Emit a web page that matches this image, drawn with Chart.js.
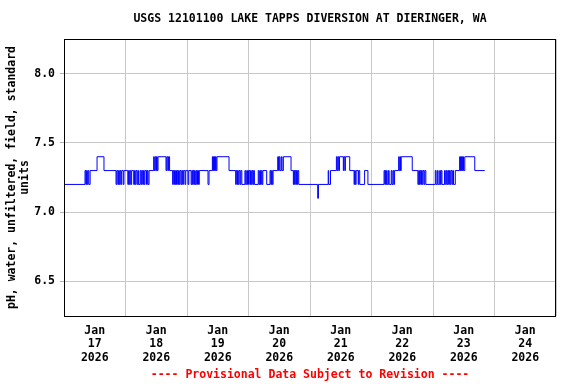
<!DOCTYPE html>
<html>
<head>
<meta charset="utf-8">
<script src="https://cdn.jsdelivr.net/npm/chart.js@4/dist/chart.umd.min.js"></script>
<style>
  html, body { margin: 0; padding: 0; background: #fff; }
  canvas { display: block; }
</style>
</head>
<body>
<canvas id="chart" width="576" height="384"></canvas>
<script>
'use strict';

const TITLE = 'USGS 12101100 LAKE TAPPS DIVERSION AT DIERINGER, WA';
const Y_TITLE = ['pH, water, unfiltered, field, standard', 'units'];
const FOOTNOTE = '---- Provisional Data Subject to Revision ----';

// x axis: hours since Jan 17 2026 00:00, one label per day (at noon)
const DAY_MONTH = 'Jan';
const DAY_NUMBERS = ['17', '18', '19', '20', '21', '22', '23', '24'];
const DAY_YEAR = '2026';
const Y_TICKS = [6.5, 7.0, 7.5, 8.0];

/* ---------------------------------------------------------------
   pH record as step changes: [hour, value held from that hour on]
--------------------------------------------------------------- */
const jan17Steps = [
  [0, 7.2], [8.2, 7.3], [8.5, 7.2], [8.8, 7.3], [9.1, 7.2], [9.4, 7.3], [9.7, 7.2], [10.2, 7.3],
  [12.9, 7.4], [15.6, 7.3], [20.3, 7.2], [20.6, 7.3], [21.0, 7.2], [21.3, 7.3], [21.6, 7.2],
  [21.9, 7.3], [22.2, 7.2], [22.5, 7.3], [23.1, 7.2], [23.4, 7.3],
];
const jan18Steps = [
  [24.9, 7.2], [25.2, 7.3], [25.5, 7.2], [25.8, 7.3], [26.1, 7.2], [26.4, 7.3], [27.2, 7.2],
  [27.5, 7.3], [27.8, 7.2], [28.1, 7.3], [28.5, 7.2], [28.8, 7.3], [29.1, 7.2], [29.7, 7.3],
  [30.0, 7.2], [30.3, 7.3], [30.7, 7.2], [31.0, 7.3], [31.3, 7.2], [31.6, 7.3], [32.2, 7.2],
  [32.5, 7.3], [32.8, 7.2], [33.2, 7.3], [35.0, 7.4], [35.2, 7.3], [35.5, 7.4], [35.8, 7.3],
  [36.1, 7.4], [36.4, 7.3], [36.7, 7.4], [39.8, 7.3], [40.1, 7.4], [40.5, 7.3], [40.8, 7.4],
  [41.2, 7.3], [42.4, 7.2], [42.6, 7.3], [42.9, 7.2], [43.1, 7.3], [43.4, 7.2], [43.6, 7.3],
  [43.9, 7.2], [44.1, 7.3], [44.4, 7.2], [44.7, 7.3], [45.0, 7.2], [45.3, 7.3], [45.7, 7.2],
  [46.0, 7.3], [46.3, 7.2], [46.6, 7.3], [47.2, 7.2], [47.5, 7.3],
];
const jan19Steps = [
  [48.4, 7.2], [48.7, 7.3], [49.6, 7.2], [49.9, 7.3], [50.2, 7.2], [50.4, 7.3], [50.7, 7.2],
  [50.9, 7.3], [51.2, 7.2], [51.5, 7.3], [51.8, 7.2], [52.1, 7.3], [52.5, 7.2], [52.8, 7.3],
  [56.2, 7.2], [56.6, 7.3], [57.9, 7.4], [58.1, 7.3], [58.3, 7.4], [58.5, 7.3], [58.7, 7.4],
  [58.9, 7.3], [59.1, 7.4], [59.4, 7.3], [59.7, 7.4], [64.4, 7.3], [67.0, 7.2], [67.2, 7.3],
  [67.5, 7.2], [67.7, 7.3], [68.0, 7.2], [68.3, 7.3], [68.7, 7.2], [69.0, 7.3], [69.4, 7.2],
  [70.6, 7.3], [70.9, 7.2], [71.3, 7.3], [71.6, 7.2],
];
const jan20Steps = [
  [72.0, 7.3], [72.5, 7.2], [72.8, 7.3], [73.1, 7.2], [73.4, 7.3], [73.7, 7.2], [74.0, 7.3],
  [74.3, 7.2], [75.8, 7.3], [76.1, 7.2], [76.4, 7.3], [76.7, 7.2], [77.0, 7.3], [77.3, 7.2],
  [77.6, 7.3], [79.1, 7.2], [80.4, 7.3], [80.7, 7.2], [81.0, 7.3], [81.3, 7.2], [81.6, 7.3],
  [83.4, 7.4], [83.7, 7.3], [84.0, 7.4], [84.3, 7.3], [84.8, 7.4], [85.1, 7.3], [85.6, 7.4],
  [88.6, 7.3], [89.5, 7.2], [89.7, 7.3], [90.0, 7.2], [90.2, 7.3], [90.5, 7.2], [90.7, 7.3],
  [91.0, 7.2], [91.2, 7.3], [91.6, 7.2],
];
const jan21Steps = [
  [99.0, 7.1], [99.3, 7.2], [103.1, 7.3], [103.3, 7.2], [104.0, 7.3], [106.3, 7.4], [106.6, 7.3],
  [106.9, 7.4], [107.2, 7.3], [107.5, 7.4], [109.0, 7.3], [109.2, 7.4], [109.6, 7.3], [109.8, 7.4],
  [111.5, 7.3], [113.2, 7.2], [113.4, 7.3], [113.7, 7.2], [114.0, 7.3], [114.8, 7.2], [115.0, 7.3],
  [115.4, 7.2], [117.3, 7.3], [118.6, 7.2],
];
const jan22Steps = [
  [124.9, 7.3], [125.2, 7.2], [125.4, 7.3], [125.6, 7.2], [125.9, 7.3], [126.1, 7.2], [126.6, 7.3],
  [126.9, 7.2], [127.7, 7.3], [128.0, 7.2], [128.4, 7.3], [128.7, 7.2], [129.0, 7.3], [130.6, 7.4],
  [130.8, 7.3], [131.1, 7.4], [131.3, 7.3], [131.6, 7.4], [135.9, 7.3], [138.1, 7.2], [138.4, 7.3],
  [138.7, 7.2], [138.9, 7.3], [139.2, 7.2], [139.5, 7.3], [139.8, 7.2], [140.1, 7.3], [140.5, 7.2],
  [140.8, 7.3], [141.2, 7.2],
];
const jan23Steps = [
  [144.9, 7.3], [145.2, 7.2], [145.7, 7.3], [146.0, 7.2], [146.6, 7.3], [146.9, 7.2], [147.2, 7.3],
  [147.5, 7.2], [148.5, 7.3], [148.8, 7.2], [149.2, 7.3], [149.5, 7.2], [149.8, 7.3], [150.1, 7.2],
  [150.4, 7.3], [150.7, 7.2], [151.0, 7.3], [151.4, 7.2], [151.7, 7.3], [152.0, 7.2], [152.7, 7.3],
  [154.4, 7.4], [154.6, 7.3], [154.8, 7.4], [155.0, 7.3], [155.2, 7.4], [155.4, 7.3], [155.6, 7.4],
  [155.9, 7.3], [156.4, 7.4], [160.3, 7.3], [164.2, 7.3],
];

const MONO = '"DejaVu Sans Mono", "Liberation Mono", monospace';
const HOURS_PER_DAY = 24;

const points = [
  ...jan17Steps, ...jan18Steps, ...jan19Steps, ...jan20Steps,
  ...jan21Steps, ...jan22Steps, ...jan23Steps,
].map(([h, v]) => ({ x: h, y: v }));

// frame, title, axis title and footnote
const usgsDecor = {
  id: 'usgsDecor',
  afterDraw(chart) {
    const { ctx, chartArea: a } = chart;
    const mid = (a.left + a.right) / 2;
    ctx.save();
    ctx.strokeStyle = '#000';
    ctx.lineWidth = 1;
    ctx.strokeRect(a.left + 0.5, a.top + 0.5, a.right - a.left - 1, a.bottom - a.top);

    ctx.font = 'bold 11.5px ' + MONO;
    ctx.textAlign = 'center';
    ctx.textBaseline = 'middle';
    ctx.fillStyle = '#000';
    ctx.fillText(TITLE, mid, 19);

    ctx.save();
    ctx.translate(0, (a.top + a.bottom) / 2);
    ctx.rotate(-Math.PI / 2);
    ctx.fillText(Y_TITLE[0], 0, 12);
    ctx.fillText(Y_TITLE[1], 0, 25);
    ctx.restore();

    ctx.fillStyle = '#ff0000';
    ctx.fillText(FOOTNOTE, mid, 375);
    ctx.restore();
  },
};

new Chart(document.getElementById('chart'), {
  type: 'line',
  data: {
    datasets: [{
      data: points,
      borderColor: '#0000ff',
      borderWidth: 1,
      pointRadius: 0,
      stepped: true,
      fill: false,
    }],
  },
  options: {
    responsive: false,
    animation: false,
    events: [],
    layout: { padding: { top: 39, right: 20, bottom: 0, left: 0 } },
    plugins: {
      legend: { display: false },
      tooltip: { enabled: false },
      title: { display: false },
    },
    scales: {
      x: {
        type: 'linear',
        min: 0,
        max: DAY_NUMBERS.length * HOURS_PER_DAY,
        afterBuildTicks: (scale) => {
          const ticks = [];
          for (let h = 0; h <= DAY_NUMBERS.length * HOURS_PER_DAY; h += 12) ticks.push({ value: h });
          scale.ticks = ticks;
        },
        afterFit: (scale) => { scale.height = 68; },
        border: { display: false },
        grid: {
          drawTicks: false,
          color: (ctx) => (ctx.tick && ctx.tick.value % HOURS_PER_DAY === 0 ? '#c8c8c8' : 'rgba(0,0,0,0)'),
        },
        ticks: {
          autoSkip: false,
          maxRotation: 0,
          minRotation: 0,
          padding: 8,
          color: '#000',
          font: { family: MONO, size: 11.5, weight: 'bold', lineHeight: 1.18 },
          callback: (v) => {
            if (v % HOURS_PER_DAY !== 12) return '';
            return [DAY_MONTH, DAY_NUMBERS[Math.floor(v / HOURS_PER_DAY)], DAY_YEAR];
          },
        },
      },
      y: {
        min: 6.25,
        max: 8.25,
        afterBuildTicks: (scale) => { scale.ticks = Y_TICKS.map((v) => ({ value: v })); },
        afterFit: (scale) => { scale.width = 64; },
        border: { display: false },
        grid: { color: '#c8c8c8', tickColor: '#b0b0b0', tickLength: 4 },
        ticks: {
          padding: 5,
          color: '#000',
          font: { family: MONO, size: 11.5, weight: 'bold' },
          callback: (v) => v.toFixed(1),
        },
      },
    },
  },
  plugins: [usgsDecor],
});
</script>
</body>
</html>
